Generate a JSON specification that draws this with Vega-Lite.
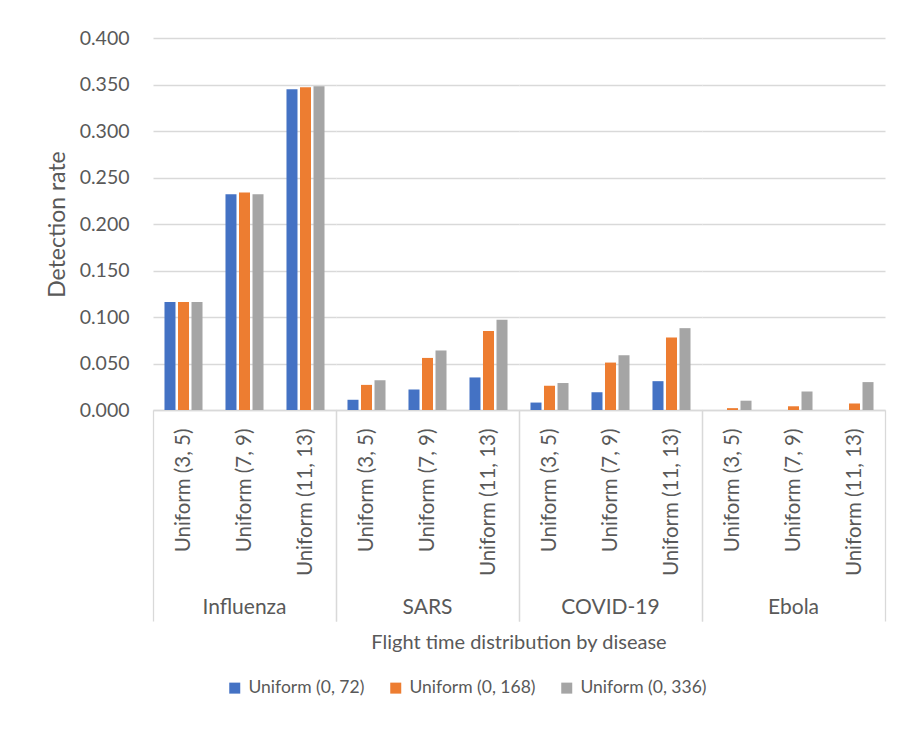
{
  "$schema": "https://vega.github.io/schema/vega-lite/v6.json",
  "padding": {"left": 46, "top": 28, "right": 10, "bottom": 5},
  "background": "white",
  "config": {"font": "Lato", "view": {"stroke": null}},
  "data": {"values": [
    {"disease": "Influenza", "dist": "Uniform (3, 5)", "series": "Uniform (0, 72)", "value": 0.116},
    {"disease": "Influenza", "dist": "Uniform (3, 5)", "series": "Uniform (0, 168)", "value": 0.116},
    {"disease": "Influenza", "dist": "Uniform (3, 5)", "series": "Uniform (0, 336)", "value": 0.116},
    {"disease": "Influenza", "dist": "Uniform (7, 9)", "series": "Uniform (0, 72)", "value": 0.232},
    {"disease": "Influenza", "dist": "Uniform (7, 9)", "series": "Uniform (0, 168)", "value": 0.234},
    {"disease": "Influenza", "dist": "Uniform (7, 9)", "series": "Uniform (0, 336)", "value": 0.232},
    {"disease": "Influenza", "dist": "Uniform (11, 13)", "series": "Uniform (0, 72)", "value": 0.345},
    {"disease": "Influenza", "dist": "Uniform (11, 13)", "series": "Uniform (0, 168)", "value": 0.347},
    {"disease": "Influenza", "dist": "Uniform (11, 13)", "series": "Uniform (0, 336)", "value": 0.348},
    {"disease": "SARS", "dist": "Uniform (3, 5)", "series": "Uniform (0, 72)", "value": 0.011},
    {"disease": "SARS", "dist": "Uniform (3, 5)", "series": "Uniform (0, 168)", "value": 0.027},
    {"disease": "SARS", "dist": "Uniform (3, 5)", "series": "Uniform (0, 336)", "value": 0.032},
    {"disease": "SARS", "dist": "Uniform (7, 9)", "series": "Uniform (0, 72)", "value": 0.022},
    {"disease": "SARS", "dist": "Uniform (7, 9)", "series": "Uniform (0, 168)", "value": 0.056},
    {"disease": "SARS", "dist": "Uniform (7, 9)", "series": "Uniform (0, 336)", "value": 0.064},
    {"disease": "SARS", "dist": "Uniform (11, 13)", "series": "Uniform (0, 72)", "value": 0.035},
    {"disease": "SARS", "dist": "Uniform (11, 13)", "series": "Uniform (0, 168)", "value": 0.085},
    {"disease": "SARS", "dist": "Uniform (11, 13)", "series": "Uniform (0, 336)", "value": 0.097},
    {"disease": "COVID-19", "dist": "Uniform (3, 5)", "series": "Uniform (0, 72)", "value": 0.008},
    {"disease": "COVID-19", "dist": "Uniform (3, 5)", "series": "Uniform (0, 168)", "value": 0.026},
    {"disease": "COVID-19", "dist": "Uniform (3, 5)", "series": "Uniform (0, 336)", "value": 0.029},
    {"disease": "COVID-19", "dist": "Uniform (7, 9)", "series": "Uniform (0, 72)", "value": 0.019},
    {"disease": "COVID-19", "dist": "Uniform (7, 9)", "series": "Uniform (0, 168)", "value": 0.051},
    {"disease": "COVID-19", "dist": "Uniform (7, 9)", "series": "Uniform (0, 336)", "value": 0.059},
    {"disease": "COVID-19", "dist": "Uniform (11, 13)", "series": "Uniform (0, 72)", "value": 0.031},
    {"disease": "COVID-19", "dist": "Uniform (11, 13)", "series": "Uniform (0, 168)", "value": 0.078},
    {"disease": "COVID-19", "dist": "Uniform (11, 13)", "series": "Uniform (0, 336)", "value": 0.088},
    {"disease": "Ebola", "dist": "Uniform (3, 5)", "series": "Uniform (0, 72)", "value": 0.0},
    {"disease": "Ebola", "dist": "Uniform (3, 5)", "series": "Uniform (0, 168)", "value": 0.002},
    {"disease": "Ebola", "dist": "Uniform (3, 5)", "series": "Uniform (0, 336)", "value": 0.010},
    {"disease": "Ebola", "dist": "Uniform (7, 9)", "series": "Uniform (0, 72)", "value": 0.0},
    {"disease": "Ebola", "dist": "Uniform (7, 9)", "series": "Uniform (0, 168)", "value": 0.004},
    {"disease": "Ebola", "dist": "Uniform (7, 9)", "series": "Uniform (0, 336)", "value": 0.020},
    {"disease": "Ebola", "dist": "Uniform (11, 13)", "series": "Uniform (0, 72)", "value": 0.0},
    {"disease": "Ebola", "dist": "Uniform (11, 13)", "series": "Uniform (0, 168)", "value": 0.007},
    {"disease": "Ebola", "dist": "Uniform (11, 13)", "series": "Uniform (0, 336)", "value": 0.030}
  ]},
  "facet": {
    "column": {
      "field": "disease", "type": "nominal",
      "sort": ["Influenza", "SARS", "COVID-19", "Ebola"],
      "title": "Flight time distribution by disease",
      "header": {
        "labelOrient": "bottom", "titleOrient": "bottom",
        "labelFontSize": 21, "labelColor": "#595959", "labelPadding": -25,
        "titleFontSize": 20, "titleColor": "#595959", "titleFontWeight": "normal", "titlePadding": 1
      }
    }
  },
  "spacing": 0,
  "spec": {
    "width": 183,
    "height": 372,
    "mark": {"type": "bar"},
    "encoding": {
      "x": {
        "field": "dist", "type": "nominal",
        "sort": ["Uniform (3, 5)", "Uniform (7, 9)", "Uniform (11, 13)"],
        "scale": {"paddingInner": 0, "paddingOuter": 0},
        "axis": {
          "title": null, "labelAngle": -90, "grid": false,
          "ticks": true, "tickBand": "extent", "tickSize": 211,
          "tickColor": "#D9D9D9", "tickWidth": 1.3,
          "tickOpacity": {"condition": {"test": "datum.value === 'Uniform (3, 5)' || datum.value === 'Uniform (7, 9)'", "value": 0}, "value": 1},
          "domainColor": "#D9D9D9", "domainWidth": 1.3,
          "labelColor": "#595959", "labelFontSize": 20.5, "labelPadding": -193
        }
      },
      "xOffset": {
        "field": "series", "type": "nominal",
        "sort": ["Uniform (0, 72)", "Uniform (0, 168)", "Uniform (0, 336)"],
        "scale": {"paddingInner": 0.185, "paddingOuter": 0.85}
      },
      "y": {
        "field": "value", "type": "quantitative",
        "scale": {"domain": [0, 0.4], "nice": false},
        "axis": {
          "title": "Detection rate", "format": ".3f",
          "values": [0, 0.05, 0.1, 0.15, 0.2, 0.25, 0.3, 0.35, 0.4],
          "grid": true, "gridColor": "#D9D9D9", "gridWidth": 1.3,
          "domain": false, "ticks": false, "labelPadding": 24,
          "labelColor": "#595959", "labelFontSize": 19.5,
          "titleFontSize": 23, "titleFontWeight": "normal", "titleColor": "#595959", "titlePadding": 10
        }
      },
      "color": {
        "field": "series", "type": "nominal",
        "scale": {"domain": ["Uniform (0, 72)", "Uniform (0, 168)", "Uniform (0, 336)"], "range": ["#4472C4", "#ED7D31", "#A5A5A5"]},
        "legend": {
          "title": null, "orient": "none", "legendX": 73, "legendY": 641, "direction": "horizontal",
          "symbolType": "square", "symbolSize": 121, "symbolStrokeWidth": 0,
          "labelFontSize": 17.5, "labelColor": "#595959", "columnPadding": 22, "labelOffset": 5
        }
      }
    }
  }
}
